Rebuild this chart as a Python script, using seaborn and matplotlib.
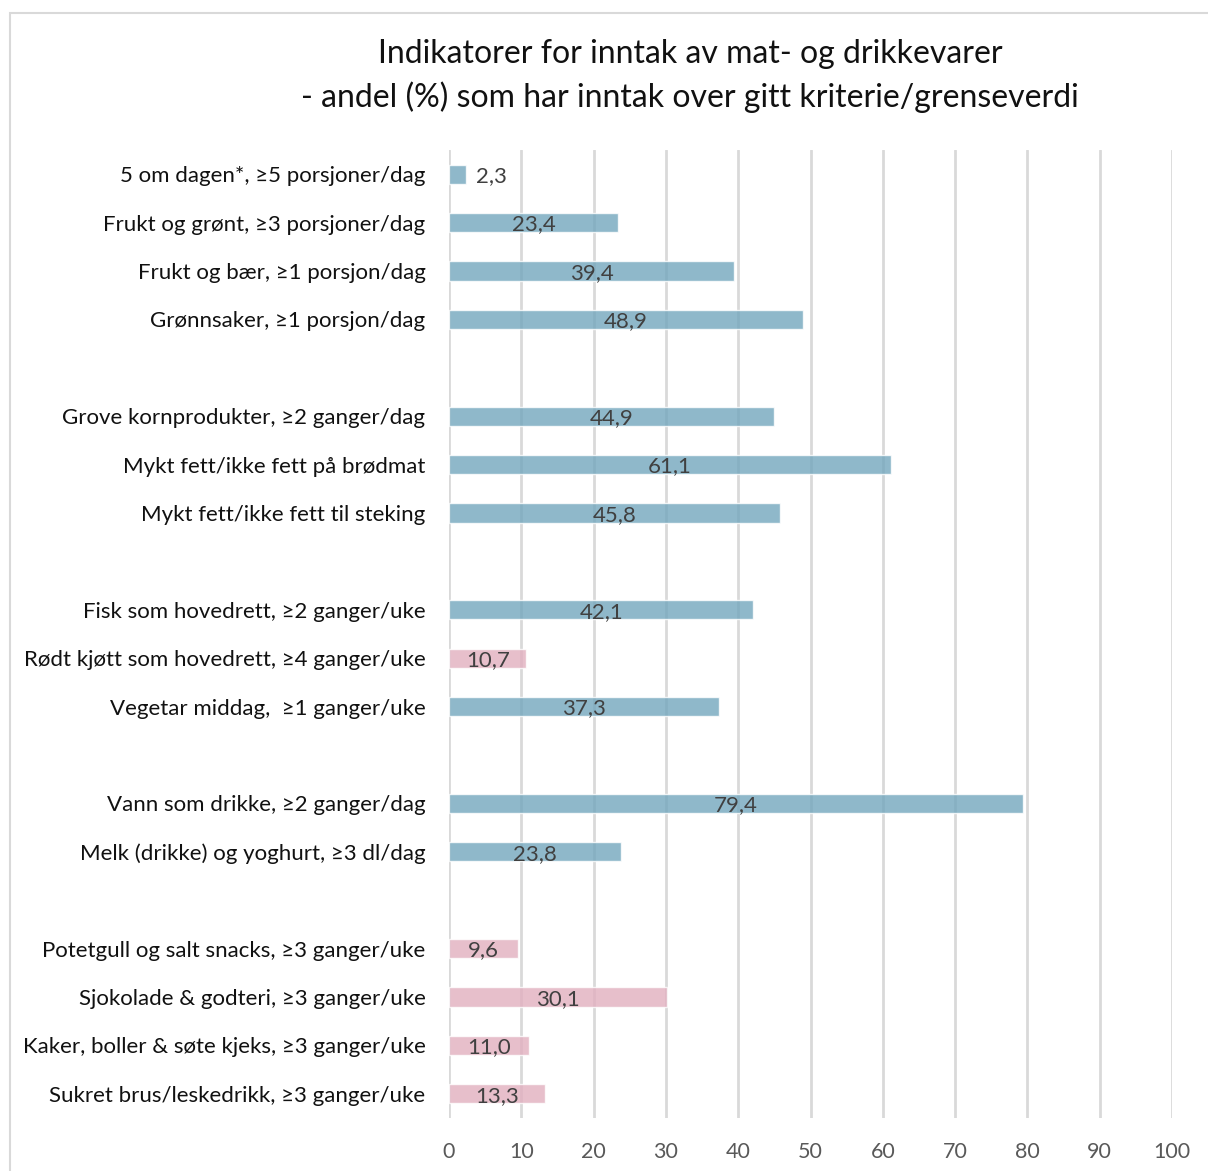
import matplotlib
matplotlib.use("Agg")
import matplotlib.pyplot as plt
from matplotlib.patches import Rectangle
import seaborn as sns
import pandas as pd
import numpy as np

# Indicator labels (empty strings are spacer rows between groups)
labels = [
    "5 om dagen*, ≥5 porsjoner/dag",
    "Frukt og grønt, ≥3 porsjoner/dag",
    "Frukt og bær, ≥1 porsjon/dag",
    "Grønnsaker, ≥1 porsjon/dag",
    "",
    "Grove kornprodukter, ≥2 ganger/dag",
    "Mykt fett/ikke fett på brødmat",
    "Mykt fett/ikke fett til steking",
    "",
    "Fisk som hovedrett, ≥2 ganger/uke",
    "Rødt kjøtt som hovedrett, ≥4 ganger/uke",
    "Vegetar middag,  ≥1 ganger/uke",
    "",
    "Vann som drikke, ≥2 ganger/dag",
    "Melk (drikke) og yoghurt, ≥3 dl/dag",
    "",
    "Potetgull og salt snacks, ≥3 ganger/uke",
    "Sjokolade & godteri, ≥3 ganger/uke",
    "Kaker, boller & søte kjeks, ≥3 ganger/uke",
    "Sukret brus/leskedrikk, ≥3 ganger/uke",
]
values = [2.3, 23.4, 39.4, 48.9, np.nan,
          44.9, 61.1, 45.8, np.nan,
          42.1, 10.7, 37.3, np.nan,
          79.4, 23.8, np.nan,
          9.6, 30.1, 11.0, 13.3]
kind = ["anbefalt", "anbefalt", "anbefalt", "anbefalt", "anbefalt",
        "anbefalt", "anbefalt", "anbefalt", "anbefalt",
        "anbefalt", "begrens", "anbefalt", "anbefalt",
        "anbefalt", "anbefalt", "anbefalt",
        "begrens", "begrens", "begrens", "begrens"]
x_ticks = [0, 10, 20, 30, 40, 50, 60, 70, 80, 90, 100]

sns.set_theme(style="white")
plt.rcParams["font.family"] = ["Lato", "DejaVu Sans"]

# unique category keys so spacer rows stay separate
keys = [f"r{i}" for i in range(len(labels))]
df = pd.DataFrame({"key": keys, "verdi": values, "type": kind})

fig = plt.figure(figsize=(12.08, 11.71), dpi=100)
W, H = 1208, 1171
ax = fig.add_axes([449 / W, 1 - 1118 / H, (1172 - 449) / W, (1118 - 150) / H])

palette = {"anbefalt": "#73A6BD", "begrens": "#E2AFBF"}
sns.barplot(data=df, x="verdi", y="key", hue="type", order=keys,
            palette=palette, dodge=False, width=0.4, alpha=0.8,
            saturation=1, orient="h", legend=False, ax=ax, zorder=2)

ax.set_xlim(0, 100)
ax.set_ylim(len(keys) - 0.5, -0.5)
ax.set_xticks(x_ticks)
ax.set_xticklabels([str(t) for t in x_ticks], fontsize=15.5, color="#595959")
ax.set_yticks(range(len(keys)))
ax.set_yticklabels(labels, fontsize=16, color="#111111")
ax.tick_params(axis="both", length=0)
ax.tick_params(axis="x", pad=17)
ax.tick_params(axis="y", pad=17)
ax.set_xlabel("")
ax.set_ylabel("")
for s in ax.spines.values():
    s.set_visible(False)
ax.xaxis.grid(True, color="#D9D9D9", linewidth=2, zorder=0)
ax.set_axisbelow(True)

# value labels
for i, v in enumerate(values):
    if np.isnan(v):
        continue
    txt = f"{v:.1f}".replace(".", ",")
    if v < 5:
        ax.text(v + 1.4, i + 0.04, txt, ha="left", va="center", fontsize=16,
                color="#404040", zorder=3)
    else:
        ax.text(v / 2, i + 0.04, txt, ha="center", va="center", fontsize=16,
                color="#404040", zorder=3)

fig.text(690 / W, 1 - 54 / H, "Indikatorer for inntak av mat- og drikkevarer",
         ha="center", va="center", fontsize=23, color="#111111")
fig.text(690 / W, 1 - 97 / H, "- andel (%) som har inntak over gitt kriterie/grenseverdi",
         ha="center", va="center", fontsize=23, color="#111111")

# chart frame
fig.add_artist(Rectangle((10 / W, -0.02), 1.1, 1 - 13 / H + 0.02,
                         transform=fig.transFigure, fill=False,
                         edgecolor="#D9D9D9", linewidth=1.5))

fig.savefig("out.png", dpi=100, facecolor="white")
